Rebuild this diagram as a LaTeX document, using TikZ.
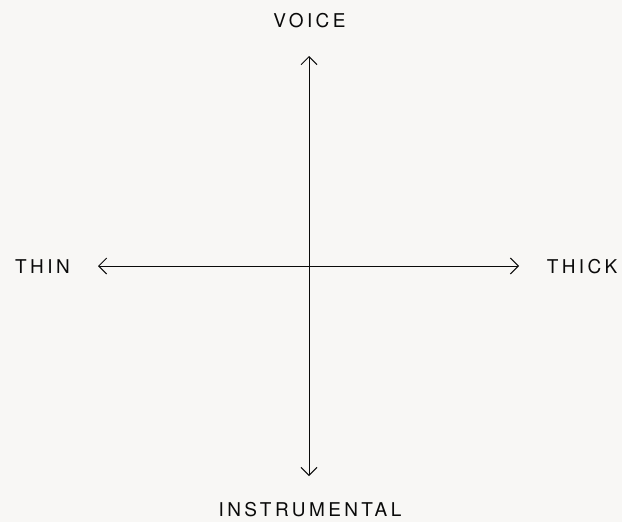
\documentclass[tikz,border=0pt]{standalone}
\usepackage{fontspec}
\setmainfont{TeX Gyre Heros}
\usetikzlibrary{arrows.meta}
\definecolor{colBack}{HTML}{F8F7F5}
\definecolor{colInk}{HTML}{0A0A0A}
\tikzset{
  axis/.style  = {{Straight Barb[length=8pt,width=16pt]}-{Straight Barb[length=8pt,width=16pt]},
                  line width=1pt, draw=colInk},
  label/.style = {text=colInk, inner sep=0pt, anchor=center,
                  font=\fontsize{19}{22}\selectfont\addfontfeature{LetterSpace=18}},
}
\begin{document}
\begin{tikzpicture}[x=1pt, y=-1pt]

%% -- Canvas --------------------------------------------------
\fill[colBack] (0,0) rectangle (622,522);
\useasboundingbox (0,0) rectangle (622,522);

%% -- Axis ends -----------------------------------------------
\coordinate (top)   at (309,56);
\coordinate (bot)   at (309,476);
\coordinate (left)  at (98,266);
\coordinate (right) at (519,266);

%% -- Labels --------------------------------------------------
\node[label] (voice) at (309.5,21)  {VOICE};
\node[label] (instr) at (310,510)   {INSTRUMENTAL};
\node[label] (thin)  at (42.5,267)  {THIN};
\node[label] (thick) at (582,267)   {THICK};

%% -- Axes ----------------------------------------------------
\draw[axis] (bot)  -- (top);
\draw[axis] (left) -- (right);

\end{tikzpicture}
\end{document}
